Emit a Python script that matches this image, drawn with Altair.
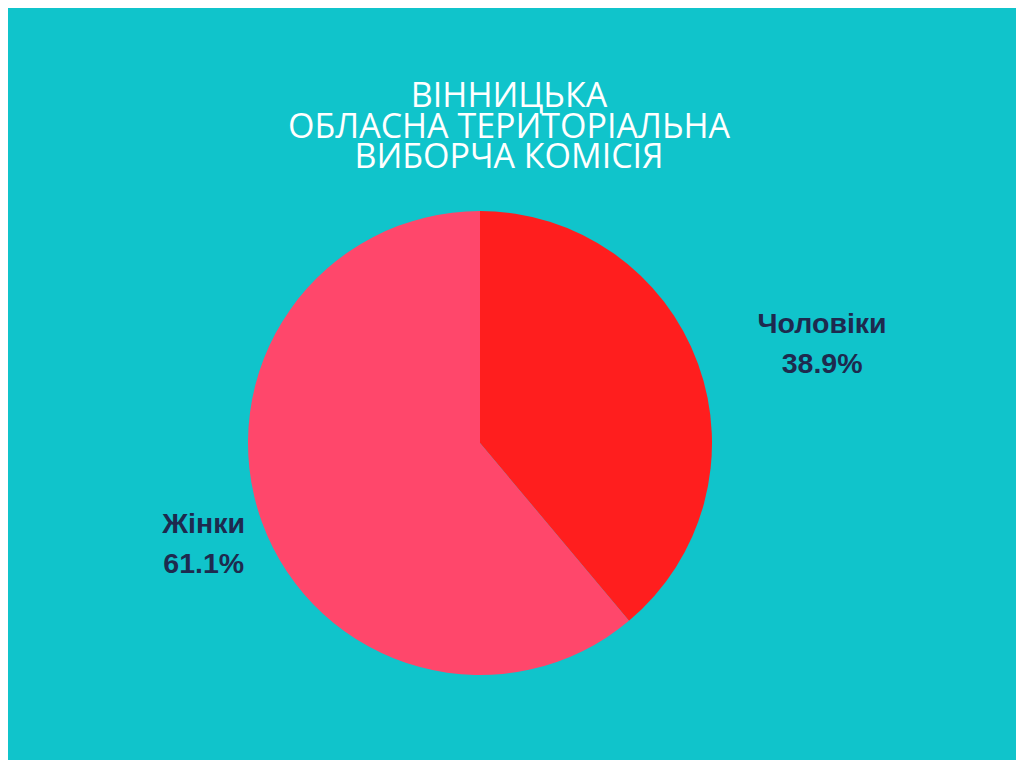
import altair as alt
import pandas as pd

categories = ["Чоловіки", "Жінки"]
shares = [38.9, 61.1]
slice_colors = ["#FF1E1E", "#FF476B"]
title_lines = ["ВІННИЦЬКА", "ОБЛАСНА ТЕРИТОРІАЛЬНА", "ВИБОРЧА КОМІСІЯ"]

BG = "#10C4CB"
LABEL_COLOR = "#1E2A4E"

df = pd.DataFrame({"cat": categories, "share": shares, "idx": list(range(len(categories)))})
theta_scale = alt.Scale(domain=[0, 100], range=[0, 6.283185307])

CX, CY = 472, 435

base = alt.Chart(df)

pie = base.mark_arc(outerRadius=232, stroke=None).encode(
    theta=alt.Theta("share:Q", stack=True, scale=theta_scale),
    color=alt.Color("cat:N", scale=alt.Scale(domain=categories, range=slice_colors), legend=None),
    order=alt.Order("idx:Q"),
    x=alt.value(CX),
    y=alt.value(CY),
)

lab_base = base.transform_window(
    cum="sum(share)", sort=[alt.SortField("idx")], frame=[None, 0]
).transform_calculate(
    mid="datum.cum - datum.share / 2",
    label="datum.cat + '\\n' + format(datum.share, '.1f') + '%'",
)

def label_layer(cat, r, dy):
    return lab_base.transform_filter(alt.datum.cat == cat).mark_text(
        font="Liberation Sans", fontWeight="bold", fontSize=28.5, color=LABEL_COLOR,
        lineBreak="\n", lineHeight=40, align="center", baseline="middle", dy=dy,
    ).encode(
        theta=alt.Theta("mid:Q", stack=False, scale=theta_scale),
        radius=alt.value(r),
        text="label:N",
        x=alt.value(CX),
        y=alt.value(CY),
    )

lab1 = label_layer(categories[0], 364, 5)
lab2 = label_layer(categories[1], 294, -19)

title = alt.Chart(pd.DataFrame({"t": ["\n".join(title_lines)]})).mark_text(
    font="Open Sans", fontSize=34, color="white", lineBreak="\n", lineHeight=30.5,
    align="center", baseline="middle",
).encode(text="t:N", x=alt.value(501), y=alt.value(89))

chart = alt.layer(pie, lab1, lab2, title).properties(
    width=1008, height=752, background=BG, padding=0,
    autosize=alt.AutoSizeParams(type="none"),
).configure_view(stroke=None)

chart.save("out.html", embed_options={"renderer": "svg", "actions": False})
